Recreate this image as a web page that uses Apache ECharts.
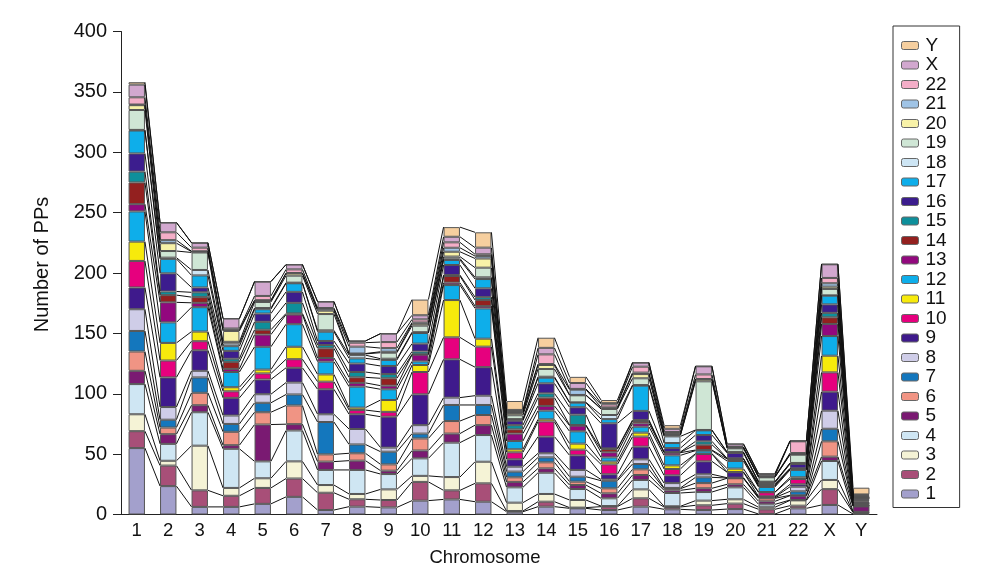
<!DOCTYPE html>
<html>
<head>
<meta charset="utf-8">
<style>
html, body { margin: 0; background: #fff; }
#chart { width: 1000px; height: 587px; }
</style>
</head>
<body>
<div id="chart"></div>
<script src="https://cdn.jsdelivr.net/npm/echarts@6/dist/echarts.min.js"></script>
<script>
var chromosomes = ["1","2","3","4","5","6","7","8","9","10","11","12","13","14","15","16","17","18","19","20","21","22","X","Y"];
var segments = chromosomes.slice();
var yTicks = { min: 0, max: 400, interval: 50 };

// PPs per chromosome, one value per stacked segment (segment 1 first, Y last)
var chr1 = [55,14,14,25,11,16,17,18,18,22,16,25,6,18,9,15,19,0.5,16.5,4,0.5,6,10.5,2];
var chr2 = [23.5,17,4,14,8,5.5,6.5,10.5,24.5,14,14.6,17,16.6,6,3,15,12,1,5.5,6.5,2.5,6.5,8,0.2];
var chr3 = [6.3,13.7,37,27.7,5.8,10.3,12.7,5.5,17,7.5,8,20.2,3.6,4.7,4,4,10,4.5,14.5,0.7,0.3,3,4,0];
var chr4 = [6.3,9.2,6.5,32.4,3,11.1,6.5,7,14.6,5.4,3.4,12.6,2.6,5.8,2.6,6.5,3.9,2.2,1.4,9,1,1,8.3,0];
var chr5 = [8.8,13.2,8,14,30.5,10.2,7.8,7.1,12.2,5,3.2,18.9,10.1,4,6.6,6.8,3.6,1,5,1,0.5,3.5,11.8,0.2];
var chr6 = [14.6,15.2,14.2,25.6,5.2,15.5,9.1,9.9,12.2,7.1,10.3,18.7,8,0.9,8.8,9.1,7.1,0.5,5.8,1.9,0.3,3,4,0];
var chr7 = [3.7,14.3,6.4,12.5,6.9,6,26.8,6.4,20.7,6.3,6,10.6,3,8,2.8,3.3,7.7,1.1,13.5,2.8,1.2,1,5.3,0];
var chr8 = [6.5,6.1,4.4,19.9,7.7,6.1,7.3,12.8,12.2,3.5,2,17.4,3.1,4.6,4.4,7,4.3,2.7,1,0.3,5.7,3.3,1.4,0];
var chr9 = [5.9,6.1,8.8,12.7,2.8,5.2,10.5,3.4,25.6,4,9.8,8.9,3,6.1,3.5,6.7,5,1,5,0.8,3,5,7,0];
var chr10 = [11.5,15.5,5,14.5,6.5,10,4,7,25.5,18.5,5.8,3,5.6,0.3,2.3,6.5,8.8,0.7,5.4,1.6,1,2.6,3.4,13];
var chr11 = [12.5,7.5,11,28.5,7.5,10.4,13.3,6.1,31.7,18.2,30.9,12.4,2,5.5,0.8,8.3,4.2,1.2,1.6,4,3.3,4.5,4.6,8];
var chr12 = [10.6,15.2,17.9,22.1,8.2,8.4,8.3,7.7,23.6,17,6.6,25.1,1.9,5,2.4,7.3,7.7,1.4,8,7.6,2,1.5,5.5,12.7];
var chr13 = [2.3,0.6,6.9,12.7,4.5,3.8,4.7,4.1,6.1,5.8,2.5,6.9,6.1,3.5,3.5,3.7,0.8,0.5,3.2,1.8,0.8,0.8,1,7.4];
var chr14 = [6.5,4.1,6.4,17.6,3.6,5,4.1,3.4,13.8,12.5,1.8,7.2,3.9,6.9,3.5,8.3,4.7,0.8,6.4,3.3,0.8,8,5.4,8.4];
var chr15 = [5.1,0.6,6.3,9.1,3.3,2.8,4.1,5.6,12.1,4.7,5,10.2,4.7,0.5,8.6,6.1,3.8,0.3,5.8,0.3,4.4,0.6,4.9,5.1];
var chr16 = [3.7,2.8,0.5,6.4,4.1,4.2,6.3,1,4.3,8.2,2.3,3.5,4.2,2.7,0.5,20.8,3.5,3.4,5,0.5,0.8,2.5,1,2.6];
var chr17 = [6.5,6.9,7.4,7.8,4.1,4.7,4.4,3.9,10.5,8.3,3.3,4.9,2.8,1.9,0.9,7.5,20.9,0.5,5.6,3.5,1.2,4.9,3.3,0.2];
var chr18 = [4.3,1.9,0.6,11,2.2,1.4,0.6,4,6.4,5.3,3,8.3,2.2,0.3,0.3,3.2,4.2,5.5,0.9,0.4,0.7,1.6,2.7,3];
var chr19 = [3.7,3.9,3.9,7.1,3.1,4.3,4.8,2.5,10.7,6.1,0.3,2.5,0.5,4.4,2.8,5.2,3.9,0.3,40.3,1.7,0.2,3.8,6.7,0.3];
var chr20 = [4.5,4.5,3.6,9.9,2.5,5,0.2,0.3,4.5,0.2,2.8,6.3,1.7,0.2,0.3,4.5,0.5,0.3,3,0.5,0.3,0.3,2.2,0.6];
var chr21 = [0.4,3.9,1.7,2.4,2.5,2.5,0.6,0.5,0.5,3.4,0.2,4.2,0.8,0.6,1.1,1.1,0.6,0.2,3.6,0.2,0.3,0.7,1.5,0.5];
var chr22 = [5.1,2.2,4.4,0.3,3.6,0.3,3.3,3.8,2,4.4,1.4,6.1,0.8,0.3,0.2,3.6,0.6,0.3,6.8,0.5,0.9,9.7,0.4,0];
var chrX = [7.9,13.1,7.6,15.7,3.6,12.7,10.4,15,15.7,16,13.8,16.3,10,5.5,3.7,7,7.2,0.3,5.3,1.9,2.8,4.4,11.3,0.2];
var chrY = [0.4,1.2,0.3,0.3,4.5,0.3,0.3,0.3,0.3,1.2,0.3,0.3,1,1,0.5,1,0.3,0.3,0.3,0.5,0.5,1,0.5,5.6];

var colors = ["#a3a0cc","#a84f78","#f5f3d6","#cfe6f3","#7a1a72","#f09484","#1477bd","#cfcde8","#3f1a8c","#e6007e","#f7ea0c","#0eaeea",
  "#92087e","#93201f","#0e8f9b","#3c1d8e","#0eaeea","#cde5f4","#cfe6d5","#f8f2a8","#a0c4e6","#f4aec8","#d2a8cf","#f6cf9f"];

var columns = [chr1,chr2,chr3,chr4,chr5,chr6,chr7,chr8,chr9,chr10,chr11,chr12,chr13,chr14,chr15,chr16,chr17,chr18,chr19,chr20,chr21,chr22,chrX,chrY];
var FONT = '"Liberation Sans", Arial, sans-serif';
var BAR_RATIO = 0.52;

var series = segments.map(function (name, s) {
  return {
    name: name,
    type: "bar",
    stack: "pps",
    barWidth: BAR_RATIO * 100 + "%",
    itemStyle: { color: colors[s], borderColor: "#555", borderWidth: 1 },
    data: columns.map(function (col) { return col[s]; })
  };
});

// lines joining the top of each segment to the same segment in the next bar
var links = [];
segments.forEach(function (name, s) {
  for (var c = 0; c < columns.length - 1; c++) {
    var from = 0, to = 0;
    for (var k = 0; k <= s; k++) {
      from += columns[c][k];
      to += columns[c + 1][k];
    }
    links.push([c, from, c + 1, to]);
  }
});

series.push({
  name: "links",
  type: "custom",
  silent: true,
  z: 3,
  data: links,
  renderItem: function (params, api) {
    var half = (api.size([1, 0])[0] * BAR_RATIO) / 2;
    var a = api.coord([api.value(0), api.value(1)]);
    var b = api.coord([api.value(2), api.value(3)]);
    return {
      type: "line",
      shape: { x1: a[0] + half, y1: a[1], x2: b[0] - half, y2: b[1] },
      style: { stroke: "#111", lineWidth: 1 }
    };
  }
});

var myChart = echarts.init(document.getElementById("chart"));
myChart.setOption({
  animation: false,
  grid: { left: 121, top: 31.5, width: 756, height: 483 },
  legend: {
    left: 893,
    top: 26,
    orient: "vertical",
    padding: [10, 13, 4, 8],
    borderColor: "#333",
    borderWidth: 1,
    itemWidth: 17,
    itemHeight: 8,
    itemGap: 0.5,
    itemStyle: { borderColor: "#666", borderWidth: 1 },
    textStyle: { fontFamily: FONT, fontSize: 19, lineHeight: 17, color: "#111", padding: [0, 0, 0, 2] },
    data: segments.slice().reverse()
  },
  xAxis: [
    {
      type: "category",
      data: chromosomes,
      name: "Chromosome",
      nameLocation: "middle",
      nameGap: 34,
      nameTextStyle: { fontFamily: FONT, fontSize: 18.5, color: "#111", padding: [0, 28, 0, 0] },
      axisLine: { onZero: false, lineStyle: { color: "#222" } },
      axisTick: { alignWithLabel: false, length: 4, lineStyle: { color: "#222" } },
      axisLabel: { fontFamily: FONT, fontSize: 18.5, color: "#111", margin: 7, interval: 0 }
    },
    {
      // same ticks again on the inner side, so they cross the axis line
      type: "category",
      position: "bottom",
      data: chromosomes,
      axisLine: { show: false },
      axisTick: { inside: true, length: 4, lineStyle: { color: "#222" } },
      axisLabel: { show: false }
    }
  ],
  yAxis: {
    type: "value",
    min: yTicks.min,
    max: yTicks.max,
    interval: yTicks.interval,
    name: "Number of PPs",
    nameLocation: "middle",
    nameGap: 69,
    nameTextStyle: { fontFamily: FONT, fontSize: 20, color: "#111", padding: [0, 0, 0, 17] },
    splitLine: { show: false },
    axisLine: { show: true, lineStyle: { color: "#222" } },
    axisTick: { show: true, length: 8, lineStyle: { color: "#222" } },
    axisLabel: { fontFamily: FONT, fontSize: 20, color: "#111", margin: 14 }
  },
  series: series
});
</script>
</body>
</html>
